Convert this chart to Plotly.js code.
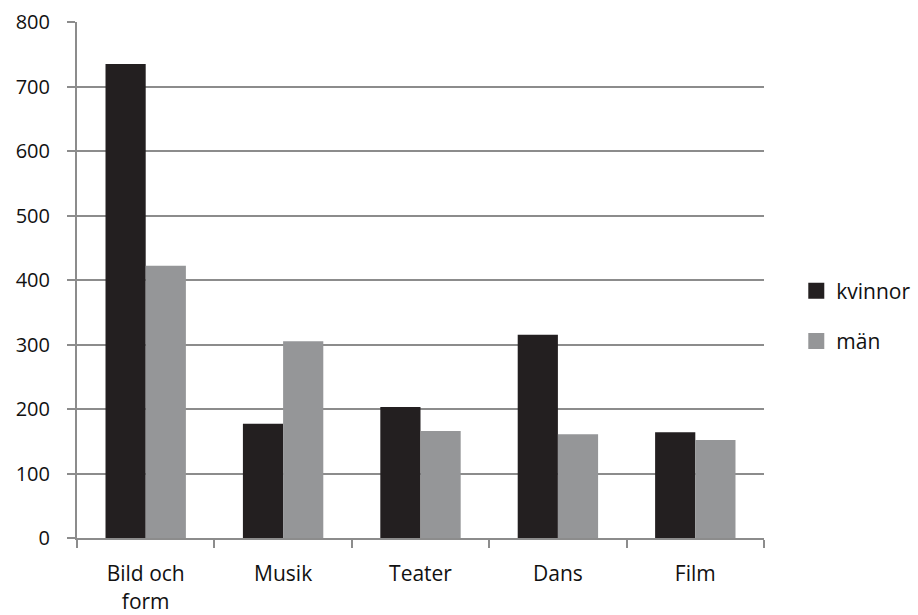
<!DOCTYPE html>
<html>
<head>
<meta charset="utf-8">
<script src="https://cdn.plot.ly/plotly-3.0.1.min.js"></script>
<style>html,body{margin:0;padding:0;background:#fff;}#chart{width:918px;height:615px;}</style>
</head>
<body>
<div id="chart"></div>
<script>
const categories = ["Bild och<br>form", "Musik", "Teater", "Dans", "Film"];
const kvinnor = [735, 177, 203, 315, 164];
const man = [422, 305, 166, 161, 152];
const seriesNames = ["kvinnor", "män"];
const seriesColors = ["#231f20", "#959698"];
const yTicks = [0, 100, 200, 300, 400, 500, 600, 700, 800];

const fontFam = "Open Sans, Lato, sans-serif";
const data = [
  {type: "bar", name: seriesNames[0], x: categories, y: kvinnor,
   marker: {color: seriesColors[0]}, showlegend: false},
  {type: "bar", name: seriesNames[1], x: categories, y: man,
   marker: {color: seriesColors[1]}, showlegend: false},
  {type: "scatter", mode: "markers", name: seriesNames[0], x: [null], y: [null],
   legendgroup: "a", marker: {symbol: "square", size: 22, color: seriesColors[0]}},
  {type: "scatter", mode: "markers", name: seriesNames[1], x: [null], y: [null],
   legendgroup: "b", marker: {symbol: "square", size: 22, color: seriesColors[1]}}
];
const layout = {
  width: 918, height: 615,
  margin: {l: 77, r: 154, t: 22, b: 77, autoexpand: false},
  paper_bgcolor: "#fff", plot_bgcolor: "#fff",
  barmode: "group", bargap: 0.415, bargroupgap: 0,
  font: {family: fontFam, size: 20, color: "#111"},
  xaxis: {
    type: "category", categoryarray: categories, categoryorder: "array",
    showgrid: false, showline: true, linecolor: "#8c8c8c", linewidth: 2,
    ticks: "outside", tickson: "boundaries", ticklen: 8, tickwidth: 2, tickcolor: "#8c8c8c",
    ticklabelstandoff: 16, tickfont: {family: fontFam, size: 21, color: "#111"},
    zeroline: false, fixedrange: true
  },
  yaxis: {
    range: [0, 800], tickvals: yTicks, ticktext: yTicks.map(String),
    showgrid: true, gridcolor: "#8c8c8c", gridwidth: 2,
    showline: true, linecolor: "#8c8c8c", linewidth: 2,
    ticks: "outside", ticklen: 8, tickwidth: 2, tickcolor: "#8c8c8c",
    ticklabelstandoff: 13,
    zeroline: false, tickfont: {family: fontFam, size: 20, color: "#111"},
    fixedrange: true
  },
  legend: {
    x: 1.047, xanchor: "left", y: 0.43, yanchor: "middle",
    font: {family: fontFam, size: 21, color: "#111"},
    tracegroupgap: 20, itemwidth: 30, itemsizing: "trace", bgcolor: "rgba(0,0,0,0)"
  },
  showlegend: true
};
Plotly.newPlot("chart", data, layout, {displayModeBar: false, staticPlot: true});
</script>
</body>
</html>
